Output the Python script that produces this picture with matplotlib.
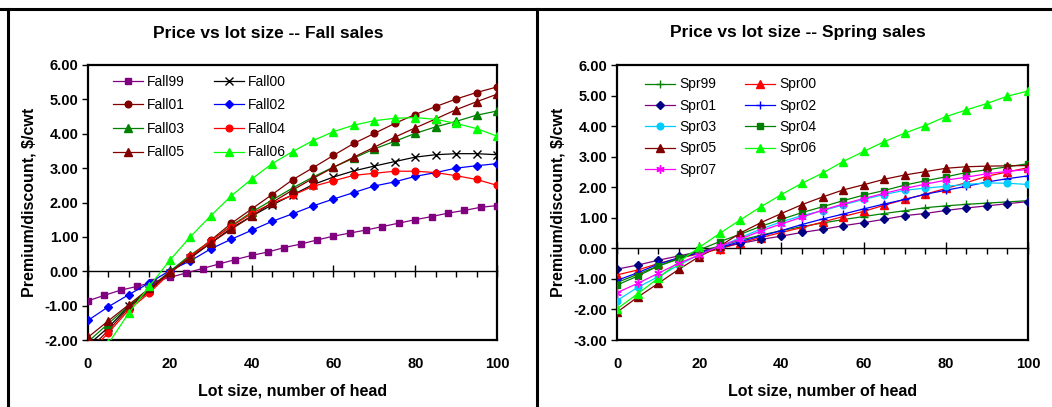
import matplotlib
matplotlib.use("Agg")
import matplotlib.pyplot as plt
from matplotlib.lines import Line2D
from matplotlib.ticker import FixedLocator, FormatStrFormatter

plt.rcParams['font.family'] = ['Liberation Sans', 'DejaVu Sans']

# ---------------- data ----------------
lots = [0, 5, 10, 15, 20, 25, 30, 35, 40, 45, 50, 55, 60, 65, 70, 75, 80, 85, 90, 95, 100]
fall99_lots = [0, 4, 8, 12, 16, 20, 24, 28, 32, 36, 40, 44, 48, 52, 56, 60, 64, 68, 72, 76, 80, 84, 88, 92, 96, 100]

fall99 = [-0.86, -0.70, -0.55, -0.44, -0.31, -0.18, -0.05, 0.08, 0.21, 0.34, 0.46, 0.56, 0.69,
          0.79, 0.91, 1.02, 1.11, 1.20, 1.30, 1.40, 1.50, 1.59, 1.69, 1.77, 1.86, 1.91]
fall00 = [-2.15, -1.63, -1.02, -0.55, -0.04, 0.38, 0.82, 1.25, 1.60, 1.93, 2.22, 2.52, 2.74, 2.92, 3.06, 3.19, 3.32, 3.39, 3.42, 3.42, 3.39]
fall01 = [-2.30, -1.72, -1.06, -0.58, -0.02, 0.42, 0.90, 1.39, 1.81, 2.23, 2.66, 3.01, 3.37, 3.72, 4.01, 4.30, 4.56, 4.79, 5.01, 5.20, 5.36]
fall02 = [-1.43, -1.03, -0.68, -0.34, 0.02, 0.30, 0.65, 0.93, 1.19, 1.45, 1.67, 1.90, 2.10, 2.29, 2.48, 2.60, 2.76, 2.87, 3.00, 3.07, 3.13]
fall03 = [-2.05, -1.52, -1.00, -0.50, 0.00, 0.47, 0.88, 1.32, 1.72, 2.07, 2.42, 2.74, 3.03, 3.29, 3.56, 3.78, 4.01, 4.20, 4.36, 4.54, 4.66]
fall04 = [-2.40, -1.79, -1.12, -0.63, -0.06, 0.43, 0.89, 1.30, 1.68, 1.98, 2.21, 2.47, 2.63, 2.79, 2.85, 2.91, 2.91, 2.87, 2.78, 2.67, 2.50]
fall05 = [-1.92, -1.44, -0.97, -0.50, -0.03, 0.40, 0.82, 1.22, 1.60, 2.00, 2.36, 2.70, 3.02, 3.32, 3.61, 3.90, 4.17, 4.43, 4.70, 4.93, 5.15]
fall06 = [-3.20, -2.10, -1.21, -0.44, 0.32, 1.00, 1.61, 2.19, 2.68, 3.13, 3.48, 3.80, 4.06, 4.25, 4.38, 4.45, 4.47, 4.42, 4.30, 4.15, 3.93]

spr99 = [-1.12, -0.85, -0.58, -0.35, -0.12, 0.08, 0.27, 0.43, 0.58, 0.71, 0.83, 0.94, 1.04, 1.14, 1.23, 1.33, 1.39, 1.44, 1.48, 1.52, 1.56]
spr00 = [-0.87, -0.71, -0.50, -0.32, -0.18, -0.02, 0.18, 0.35, 0.52, 0.68, 0.86, 1.04, 1.21, 1.41, 1.60, 1.77, 1.96, 2.15, 2.36, 2.50, 2.64]
spr01 = [-0.68, -0.55, -0.39, -0.25, -0.11, 0.03, 0.16, 0.29, 0.40, 0.52, 0.62, 0.74, 0.84, 0.95, 1.07, 1.14, 1.24, 1.32, 1.39, 1.46, 1.53]
spr02 = [-1.05, -0.80, -0.52, -0.31, -0.15, 0.03, 0.22, 0.40, 0.58, 0.78, 0.96, 1.12, 1.29, 1.45, 1.60, 1.77, 1.90, 2.03, 2.17, 2.28, 2.37]
spr03 = [-1.71, -1.28, -0.93, -0.55, -0.20, 0.05, 0.35, 0.63, 0.87, 1.07, 1.23, 1.42, 1.60, 1.76, 1.90, 1.97, 2.03, 2.09, 2.14, 2.13, 2.09]
spr04 = [-1.20, -0.91, -0.58, -0.33, -0.05, 0.22, 0.46, 0.72, 0.95, 1.17, 1.36, 1.56, 1.74, 1.89, 2.07, 2.21, 2.34, 2.48, 2.57, 2.67, 2.77]
spr05 = [-2.09, -1.60, -1.15, -0.69, -0.27, 0.07, 0.50, 0.84, 1.14, 1.43, 1.68, 1.91, 2.08, 2.26, 2.40, 2.51, 2.62, 2.67, 2.69, 2.70, 2.71]
spr06 = [-1.98, -1.49, -0.98, -0.45, 0.03, 0.49, 0.93, 1.36, 1.76, 2.13, 2.46, 2.84, 3.17, 3.49, 3.77, 4.02, 4.31, 4.53, 4.74, 4.98, 5.15]
spr07 = [-1.45, -1.15, -0.82, -0.49, -0.22, 0.08, 0.30, 0.57, 0.80, 1.02, 1.25, 1.45, 1.63, 1.80, 1.96, 2.10, 2.23, 2.33, 2.44, 2.52, 2.58]

x_ticks = [0, 20, 40, 60, 80, 100]
x_minor = [5, 10, 15, 25, 30, 35, 45, 50, 55, 65, 70, 75, 85, 90, 95]
fall_yticks = [-2, -1, 0, 1, 2, 3, 4, 5, 6]
spr_yticks = [-3, -2, -1, 0, 1, 2, 3, 4, 5, 6]

# (label, x, y, line colour, marker, marker face, marker edge, size)
fall_series = [
    ("Fall99", fall99_lots, fall99, '#800080', 's', '#800080', '#800080', 4.4),
    ("Fall00", lots, fall00, '#000000', 'x', 'none', '#000000', 5.2),
    ("Fall01", lots, fall01, '#800000', 'o', '#800000', '#800000', 4.8),
    ("Fall02", lots, fall02, '#0000FF', 'D', '#0000FF', '#0000FF', 4.0),
    ("Fall03", lots, fall03, '#008000', '^', '#008000', '#008000', 5.4),
    ("Fall04", lots, fall04, '#FF0000', 'o', '#FF0000', '#FF0000', 4.8),
    ("Fall05", lots, fall05, '#800000', '^', '#800000', '#800000', 5.4),
    ("Fall06", lots, fall06, '#00FF00', '^', '#00FF00', '#00FF00', 5.4),
]
spr_series = [
    ("Spr99", lots, spr99, '#008000', '+', '#008000', '#008000', 5.5),
    ("Spr00", lots, spr00, '#FF0000', '^', '#FF0000', '#FF0000', 5.4),
    ("Spr01", lots, spr01, '#800080', 'D', '#000080', '#000080', 4.0),
    ("Spr02", lots, spr02, '#0000FF', '+', '#0000FF', '#0000FF', 5.5),
    ("Spr03", lots, spr03, '#00CCFF', 'o', '#00CCFF', '#00CCFF', 4.8),
    ("Spr04", lots, spr04, '#008000', 's', '#008000', '#008000', 4.4),
    ("Spr05", lots, spr05, '#800000', '^', '#800000', '#800000', 5.4),
    ("Spr06", lots, spr06, '#00FF00', '^', '#00FF00', '#00FF00', 5.4),
    ("Spr07", lots, spr07, '#FF00FF', (6, 2, 0), '#FF00FF', '#FF00FF', 6.0),
]

W, H = 1052, 407
fig = plt.figure(figsize=(W / 100, H / 100), dpi=100)


def make_panel(rect, series, yticks, title, title_x, leg_anchor, leg_order, leg_spacing):
    ax = fig.add_axes(rect)
    handles = {}
    for lab, xs, ys, lc, mk, mfc, mec, ms in series:
        h, = ax.plot(xs, ys, color=lc, lw=0.9, marker=mk, markersize=ms,
                     markerfacecolor=mfc, markeredgecolor=mec, markeredgewidth=1.0,
                     label=lab, zorder=3)
        handles[lab] = h
    ylo, yhi = yticks[0], yticks[-1]
    ax.set_xlim(x_ticks[0], x_ticks[-1])
    ax.set_ylim(ylo, yhi)
    for s in ax.spines.values():
        s.set_linewidth(1.6)
        s.set_color('black')
    ax.set_yticks(yticks)
    ax.yaxis.set_major_formatter(FormatStrFormatter('%.2f'))
    ax.tick_params(axis='y', direction='out', length=4, width=1, pad=3, labelsize=10.5)
    ax.set_xticks(x_ticks)
    ax.set_xticklabels([str(v) for v in x_ticks])
    ax.tick_params(axis='x', length=0, pad=12, labelsize=10.5)
    for t in ax.get_xticklabels() + ax.get_yticklabels():
        t.set_fontweight('bold')
    # zero crossing axis with ticks
    loc = (0 - ylo) / (yhi - ylo)
    sec = ax.secondary_xaxis(loc)
    sec.spines['bottom'].set_linewidth(1.0)
    sec.set_xticks(x_ticks)
    sec.xaxis.set_minor_locator(FixedLocator(x_minor))
    sec.tick_params(which='major', direction='inout', length=8, width=1.0, labelbottom=False)
    sec.tick_params(which='minor', direction='out', length=4, width=1.0)
    ax.set_xlabel("Lot size, number of head", fontsize=11.5, fontweight='bold', labelpad=9)
    ax.set_ylabel("Premium/discount, $/cwt", fontsize=11.5, fontweight='bold', labelpad=6)
    fig.text(title_x / W, 1 - 33 / H, title, ha='center', va='center',
             fontsize=12.5, fontweight='bold')
    ax.legend([handles[k] for k in leg_order], leg_order, ncol=2, frameon=False,
              loc='upper left', bbox_to_anchor=leg_anchor, fontsize=10,
              handlelength=2.15, handletextpad=0.3, columnspacing=2.1,
              labelspacing=leg_spacing, borderaxespad=0, borderpad=0)
    return ax


fall_order = ["Fall99", "Fall01", "Fall03", "Fall05", "Fall00", "Fall02", "Fall04", "Fall06"]
spr_order = ["Spr99", "Spr01", "Spr03", "Spr05", "Spr07", "Spr00", "Spr02", "Spr04", "Spr06"]

make_panel([88 / W, 1 - 340 / H, 409 / W, 275 / H], fall_series, fall_yticks,
           "Price vs lot size -- Fall sales", 268, (0.061, 0.965), fall_order, 0.69)
make_panel([617 / W, 1 - 340 / H, 411 / W, 275 / H], spr_series, spr_yticks,
           "Price vs lot size -- Spring sales", 798, (0.068, 0.955), spr_order, 0.53)

# panel borders
for (x0, y0, x1, y1) in [(0, 8.5, W, 8.5), (7.5, 8.5, 7.5, H), (536.5, 8.5, 536.5, H)]:
    fig.add_artist(Line2D([x0 / W, x1 / W], [1 - y0 / H, 1 - y1 / H],
                          transform=fig.transFigure, color='black', lw=2.2))

fig.savefig("out.png", dpi=100)
